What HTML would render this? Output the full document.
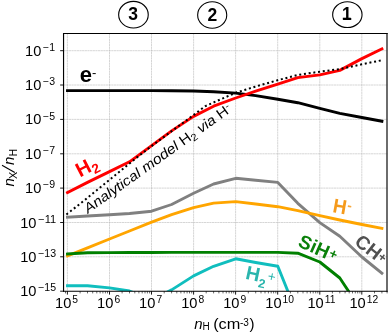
<!DOCTYPE html><html><head><meta charset="utf-8"><style>html,body{margin:0;padding:0;background:#fff;overflow:hidden}body{width:391px;height:334px;position:relative}</style></head><body><svg width="391" height="334" viewBox="0 0 391 334" style="position:absolute;left:0;top:0;font-family:'Liberation Sans',sans-serif;will-change:transform">
<rect x="0" y="0" width="391" height="334" fill="#fff"/>
<g stroke="#b4b4b4" stroke-width="0.55" stroke-dasharray="2.2,0.45"><line x1="67.4" y1="33.45" x2="67.4" y2="291.2"/><line x1="109.5" y1="33.45" x2="109.5" y2="291.2"/><line x1="151.5" y1="33.45" x2="151.5" y2="291.2"/><line x1="193.6" y1="33.45" x2="193.6" y2="291.2"/><line x1="235.6" y1="33.45" x2="235.6" y2="291.2"/><line x1="277.7" y1="33.45" x2="277.7" y2="291.2"/><line x1="319.8" y1="33.45" x2="319.8" y2="291.2"/><line x1="361.8" y1="33.45" x2="361.8" y2="291.2"/><line x1="63.55" y1="50.7" x2="387.3" y2="50.7"/><line x1="63.55" y1="85.0" x2="387.3" y2="85.0"/><line x1="63.55" y1="119.4" x2="387.3" y2="119.4"/><line x1="63.55" y1="153.8" x2="387.3" y2="153.8"/><line x1="63.55" y1="188.1" x2="387.3" y2="188.1"/><line x1="63.55" y1="222.5" x2="387.3" y2="222.5"/><line x1="63.55" y1="256.8" x2="387.3" y2="256.8"/></g>
<clipPath id="c"><rect x="63.55" y="33.45" width="323.75" height="257.75"/></clipPath>
<g clip-path="url(#c)">
<polyline points="67.5,217.1 87.5,216.0 109.5,214.8 129.5,213.5 151.6,211.2 171.6,204.5 193.6,193.3 213.6,184.0 235.7,178.3 255.7,180.2 277.8,182.4 297.8,203.3 319.8,222.6 339.8,236.2 361.9,257.0 381.9,273.1" fill="none" stroke="#808080" stroke-width="2.9" stroke-linejoin="round" stroke-linecap="square" />
<polyline points="67.5,255.8 87.5,247.8 109.5,239.0 129.5,231.0 151.6,222.2 171.6,214.7 193.6,207.6 213.6,203.1 235.7,201.6 255.7,204.0 277.8,206.7 297.8,210.6 319.8,215.7 339.8,220.0 361.9,224.5 381.9,228.3" fill="none" stroke="#ffa500" stroke-width="2.9" stroke-linejoin="round" stroke-linecap="square" />
<polyline points="67.5,254.0 87.5,252.8 109.5,252.6 129.5,252.5 151.6,252.5 171.6,252.4 193.6,252.4 213.6,252.4 235.7,252.4 255.7,252.4 277.8,252.4 297.8,253.2 319.8,262.0 339.8,278.0 361.9,311.4 381.9,340.0" fill="none" stroke="#008000" stroke-width="2.9" stroke-linejoin="round" stroke-linecap="square" />
<polyline points="67.5,285.7 87.5,285.7 109.5,287.9 129.5,291.0 151.6,300.0 171.6,289.9 193.6,275.9 213.6,266.3 235.7,258.8 255.7,262.5 277.8,266.2 297.8,316.0" fill="none" stroke="#10bebe" stroke-width="2.9" stroke-linejoin="round" stroke-linecap="square" />
<polyline points="67.5,90.6 87.5,90.6 109.5,90.6 129.5,90.6 151.6,90.6 171.6,90.7 193.6,91.0 213.6,91.8 235.7,93.1 255.7,95.6 277.8,99.3 297.8,102.7 319.8,108.3 339.8,113.4 361.9,117.5 381.9,121.2" fill="none" stroke="#000" stroke-width="2.9" stroke-linejoin="round" stroke-linecap="square" />
<polyline points="67.5,192.6 87.5,182.4 109.5,171.6 129.5,161.8 151.6,145.6 171.6,130.9 193.6,116.4 213.6,106.2 235.7,98.0 255.7,91.2 277.8,84.1 297.8,77.6 319.8,74.9 339.8,70.4 361.9,58.6 381.9,48.9" fill="none" stroke="#ff0000" stroke-width="2.9" stroke-linejoin="round" stroke-linecap="square" />
<polyline points="66.4,214.5 85.6,199.4 136.7,157.6 151.7,146.0 172.4,130.6 193.8,114.9 205.0,106.3 220.0,99.6 235.7,92.8 255.0,86.7 277.7,80.2 298.0,74.9 319.7,71.7 340.0,69.1 361.7,64.3 382.6,60.1" fill="none" stroke="#000" stroke-width="2.0" stroke-linejoin="round" stroke-linecap="butt" stroke-dasharray="2.0,2.75"/>
</g>
<g stroke="#000" stroke-linecap="square"><line x1="63.55" y1="33.45" x2="63.55" y2="291.2" stroke-width="1.15"/><line x1="63.55" y1="33.45" x2="387.1" y2="33.45" stroke-width="1.1"/><line x1="63.55" y1="291.2" x2="387.1" y2="291.2" stroke-width="1.05"/><line x1="387.0" y1="33.45" x2="387.0" y2="291.2" stroke-width="1.15"/></g>
<g stroke="#000" stroke-width="0.9"><line x1="67.4" y1="291.2" x2="67.4" y2="294.59999999999997"/><line x1="109.5" y1="291.2" x2="109.5" y2="294.59999999999997"/><line x1="151.5" y1="291.2" x2="151.5" y2="294.59999999999997"/><line x1="193.6" y1="291.2" x2="193.6" y2="294.59999999999997"/><line x1="235.6" y1="291.2" x2="235.6" y2="294.59999999999997"/><line x1="277.7" y1="291.2" x2="277.7" y2="294.59999999999997"/><line x1="319.8" y1="291.2" x2="319.8" y2="294.59999999999997"/><line x1="361.8" y1="291.2" x2="361.8" y2="294.59999999999997"/><line x1="63.55" y1="50.7" x2="60.15" y2="50.7"/><line x1="63.55" y1="85.0" x2="60.15" y2="85.0"/><line x1="63.55" y1="119.4" x2="60.15" y2="119.4"/><line x1="63.55" y1="153.8" x2="60.15" y2="153.8"/><line x1="63.55" y1="188.1" x2="60.15" y2="188.1"/><line x1="63.55" y1="222.5" x2="60.15" y2="222.5"/><line x1="63.55" y1="256.8" x2="60.15" y2="256.8"/><line x1="63.55" y1="291.2" x2="60.15" y2="291.2"/></g>
<g stroke="#000" stroke-width="0.6"><line x1="65.5" y1="291.2" x2="65.5" y2="293.4"/><line x1="80.1" y1="291.2" x2="80.1" y2="293.4"/><line x1="87.5" y1="291.2" x2="87.5" y2="293.4"/><line x1="92.7" y1="291.2" x2="92.7" y2="293.4"/><line x1="96.8" y1="291.2" x2="96.8" y2="293.4"/><line x1="100.1" y1="291.2" x2="100.1" y2="293.4"/><line x1="102.9" y1="291.2" x2="102.9" y2="293.4"/><line x1="105.4" y1="291.2" x2="105.4" y2="293.4"/><line x1="107.5" y1="291.2" x2="107.5" y2="293.4"/><line x1="122.1" y1="291.2" x2="122.1" y2="293.4"/><line x1="129.5" y1="291.2" x2="129.5" y2="293.4"/><line x1="134.8" y1="291.2" x2="134.8" y2="293.4"/><line x1="138.9" y1="291.2" x2="138.9" y2="293.4"/><line x1="142.2" y1="291.2" x2="142.2" y2="293.4"/><line x1="145.0" y1="291.2" x2="145.0" y2="293.4"/><line x1="147.4" y1="291.2" x2="147.4" y2="293.4"/><line x1="149.6" y1="291.2" x2="149.6" y2="293.4"/><line x1="164.2" y1="291.2" x2="164.2" y2="293.4"/><line x1="171.6" y1="291.2" x2="171.6" y2="293.4"/><line x1="176.8" y1="291.2" x2="176.8" y2="293.4"/><line x1="180.9" y1="291.2" x2="180.9" y2="293.4"/><line x1="184.2" y1="291.2" x2="184.2" y2="293.4"/><line x1="187.1" y1="291.2" x2="187.1" y2="293.4"/><line x1="189.5" y1="291.2" x2="189.5" y2="293.4"/><line x1="191.7" y1="291.2" x2="191.7" y2="293.4"/><line x1="206.2" y1="291.2" x2="206.2" y2="293.4"/><line x1="213.6" y1="291.2" x2="213.6" y2="293.4"/><line x1="218.9" y1="291.2" x2="218.9" y2="293.4"/><line x1="223.0" y1="291.2" x2="223.0" y2="293.4"/><line x1="226.3" y1="291.2" x2="226.3" y2="293.4"/><line x1="229.1" y1="291.2" x2="229.1" y2="293.4"/><line x1="231.6" y1="291.2" x2="231.6" y2="293.4"/><line x1="233.7" y1="291.2" x2="233.7" y2="293.4"/><line x1="248.3" y1="291.2" x2="248.3" y2="293.4"/><line x1="255.7" y1="291.2" x2="255.7" y2="293.4"/><line x1="261.0" y1="291.2" x2="261.0" y2="293.4"/><line x1="265.0" y1="291.2" x2="265.0" y2="293.4"/><line x1="268.4" y1="291.2" x2="268.4" y2="293.4"/><line x1="271.2" y1="291.2" x2="271.2" y2="293.4"/><line x1="273.6" y1="291.2" x2="273.6" y2="293.4"/><line x1="275.8" y1="291.2" x2="275.8" y2="293.4"/><line x1="290.4" y1="291.2" x2="290.4" y2="293.4"/><line x1="297.8" y1="291.2" x2="297.8" y2="293.4"/><line x1="303.0" y1="291.2" x2="303.0" y2="293.4"/><line x1="307.1" y1="291.2" x2="307.1" y2="293.4"/><line x1="310.4" y1="291.2" x2="310.4" y2="293.4"/><line x1="313.2" y1="291.2" x2="313.2" y2="293.4"/><line x1="315.7" y1="291.2" x2="315.7" y2="293.4"/><line x1="317.8" y1="291.2" x2="317.8" y2="293.4"/><line x1="332.4" y1="291.2" x2="332.4" y2="293.4"/><line x1="339.8" y1="291.2" x2="339.8" y2="293.4"/><line x1="345.1" y1="291.2" x2="345.1" y2="293.4"/><line x1="349.2" y1="291.2" x2="349.2" y2="293.4"/><line x1="352.5" y1="291.2" x2="352.5" y2="293.4"/><line x1="355.3" y1="291.2" x2="355.3" y2="293.4"/><line x1="357.7" y1="291.2" x2="357.7" y2="293.4"/><line x1="359.9" y1="291.2" x2="359.9" y2="293.4"/><line x1="374.5" y1="291.2" x2="374.5" y2="293.4"/><line x1="381.9" y1="291.2" x2="381.9" y2="293.4"/><line x1="387.1" y1="291.2" x2="387.1" y2="293.4"/></g>
<text x="41.4" y="55.7" font-size="14" text-anchor="end" textLength="16.3" lengthAdjust="spacingAndGlyphs">10</text>
<text x="43" y="50.8" font-size="10" textLength="12.0" lengthAdjust="spacingAndGlyphs">−1</text>
<text x="41.4" y="90.0" font-size="14" text-anchor="end" textLength="16.3" lengthAdjust="spacingAndGlyphs">10</text>
<text x="43" y="85.1" font-size="10" textLength="12.0" lengthAdjust="spacingAndGlyphs">−3</text>
<text x="41.4" y="124.4" font-size="14" text-anchor="end" textLength="16.3" lengthAdjust="spacingAndGlyphs">10</text>
<text x="43" y="119.5" font-size="10" textLength="12.0" lengthAdjust="spacingAndGlyphs">−5</text>
<text x="41.4" y="158.8" font-size="14" text-anchor="end" textLength="16.3" lengthAdjust="spacingAndGlyphs">10</text>
<text x="43" y="153.9" font-size="10" textLength="12.0" lengthAdjust="spacingAndGlyphs">−7</text>
<text x="41.4" y="193.1" font-size="14" text-anchor="end" textLength="16.3" lengthAdjust="spacingAndGlyphs">10</text>
<text x="43" y="188.2" font-size="10" textLength="12.0" lengthAdjust="spacingAndGlyphs">−9</text>
<text x="36.5" y="227.5" font-size="14" text-anchor="end" textLength="16.3" lengthAdjust="spacingAndGlyphs">10</text>
<text x="38.2" y="222.6" font-size="10" textLength="17.9" lengthAdjust="spacingAndGlyphs">−11</text>
<text x="36.5" y="261.8" font-size="14" text-anchor="end" textLength="16.3" lengthAdjust="spacingAndGlyphs">10</text>
<text x="38.2" y="256.9" font-size="10" textLength="17.9" lengthAdjust="spacingAndGlyphs">−13</text>
<text x="36.5" y="296.2" font-size="14" text-anchor="end" textLength="16.3" lengthAdjust="spacingAndGlyphs">10</text>
<text x="38.2" y="291.3" font-size="10" textLength="17.9" lengthAdjust="spacingAndGlyphs">−15</text>
<text x="71.3" y="308.2" font-size="14" text-anchor="end" textLength="16.3" lengthAdjust="spacingAndGlyphs">10</text>
<text x="72.3" y="303.2" font-size="10.3">5</text>
<text x="113.4" y="308.2" font-size="14" text-anchor="end" textLength="16.3" lengthAdjust="spacingAndGlyphs">10</text>
<text x="114.4" y="303.2" font-size="10.3">6</text>
<text x="155.4" y="308.2" font-size="14" text-anchor="end" textLength="16.3" lengthAdjust="spacingAndGlyphs">10</text>
<text x="156.4" y="303.2" font-size="10.3">7</text>
<text x="197.5" y="308.2" font-size="14" text-anchor="end" textLength="16.3" lengthAdjust="spacingAndGlyphs">10</text>
<text x="198.5" y="303.2" font-size="10.3">8</text>
<text x="239.5" y="308.2" font-size="14" text-anchor="end" textLength="16.3" lengthAdjust="spacingAndGlyphs">10</text>
<text x="240.5" y="303.2" font-size="10.3">9</text>
<text x="281.6" y="308.2" font-size="14" text-anchor="end" textLength="16.3" lengthAdjust="spacingAndGlyphs">10</text>
<text x="282.6" y="303.2" font-size="10.3">10</text>
<text x="323.7" y="308.2" font-size="14" text-anchor="end" textLength="16.3" lengthAdjust="spacingAndGlyphs">10</text>
<text x="324.7" y="303.2" font-size="10.3">11</text>
<text x="365.7" y="308.2" font-size="14" text-anchor="end" textLength="16.3" lengthAdjust="spacingAndGlyphs">10</text>
<text x="366.7" y="303.2" font-size="10.3">12</text>
<text x="194.2" y="328.7" font-size="15" font-style="italic">n</text>
<text x="202.6" y="330.4" font-size="10">H</text>
<text x="213.2" y="328.7" font-size="15" textLength="27.2" lengthAdjust="spacingAndGlyphs">(cm</text>
<text x="240" y="325.8" font-size="10">-3</text>
<text x="249.6" y="328.7" font-size="15">)</text>
<g transform="translate(13.5,186.6) rotate(-90)"><text x="0" y="0" font-size="15" font-style="italic">n</text><text x="7.7" y="3.2" font-size="10.8">X</text><line x1="14.2" y1="1.3" x2="21.3" y2="-11.5" stroke="#000" stroke-width="1.1"/><text x="21.6" y="0" font-size="15" font-style="italic">n</text><text x="30.4" y="3.1" font-size="10">H</text></g>
<ellipse cx="133.45" cy="14.7" rx="14.8" ry="13.35" fill="#fff" stroke="#000" stroke-width="1.1"/>
<text x="133.05" y="20.4" font-size="17.5" font-weight="bold" text-anchor="middle">3</text>
<ellipse cx="212.2" cy="15.0" rx="14.55" ry="13.25" fill="#fff" stroke="#000" stroke-width="1.1"/>
<text x="212.4" y="20.5" font-size="17.5" font-weight="bold" text-anchor="middle">2</text>
<ellipse cx="347.35" cy="14.65" rx="14.7" ry="12.9" fill="#fff" stroke="#000" stroke-width="1.1"/>
<text x="346.9" y="19.7" font-size="17.5" font-weight="bold" text-anchor="middle">1</text>
<rect x="342.8" y="17.7" width="7.9" height="2.0" fill="#000"/>
<text x="79.7" y="82.2" font-size="22" font-weight="bold">e<tspan font-size="13" font-weight="normal" dy="-5.5">-</tspan></text>
<text transform="translate(79.9,177.4) rotate(-27.5)" font-size="20" font-weight="bold" fill="#ff0000">H<tspan font-size="13.5" dy="4" dx="0.3">2</tspan></text>
<text transform="translate(88.0,213.8) rotate(-35.4)" font-size="14" font-style="italic" textLength="177.5" lengthAdjust="spacingAndGlyphs">Analytical model <tspan font-style="normal">H</tspan><tspan font-style="normal" font-size="10" dy="2.5">2</tspan><tspan dy="-2.5"> via </tspan><tspan font-style="normal">H</tspan><tspan font-style="normal" font-size="10" dy="-4">-</tspan></text>
<text transform="translate(331.9,212) rotate(10)" font-size="20" font-weight="bold" fill="#f59a1b" textLength="13.6" lengthAdjust="spacingAndGlyphs">H</text><text transform="translate(346.7,209.6) rotate(10)" font-size="13.5" font-weight="bold" fill="#f7a93d">-</text>
<text transform="translate(297.1,246.1) rotate(24)" font-size="19" font-weight="bold" fill="#0a800a">SiH<tspan font-size="13.5" dy="-3" dx="0.8">+</tspan></text>
<text transform="translate(353.6,243.8) rotate(38)" font-size="19" font-weight="bold" fill="#505050">CH<tspan font-size="12.5" dy="-3">+</tspan></text>
<text transform="translate(244.7,278.8) rotate(12)" font-size="19.5" font-weight="bold" fill="#2ab5ad">H<tspan font-size="12.5" dy="5.3">2</tspan></text>
<text transform="translate(271.8,276.0) rotate(12)" x="-3.95" y="5.1" font-size="13.5" fill="#2ab5ad">+</text>
</svg></body></html>
